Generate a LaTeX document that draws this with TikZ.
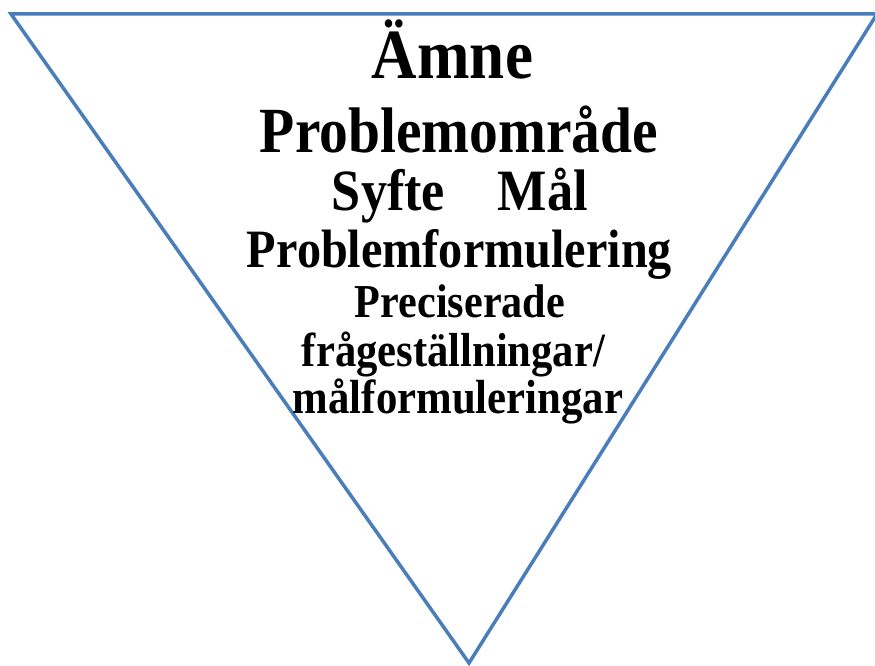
\documentclass[tikz,border=0pt]{standalone}
\usepackage{fontspec}
\usepackage{graphicx}
\setmainfont{Liberation Serif}
\definecolor{triblue}{HTML}{4A7EBB}
\newcommand\fitline[2]{\resizebox{#1pt}{!}{\scalebox{1}[1.12]{#2}}}
\tikzset{
  tri/.style={draw=triblue, line width=3.5pt, line join=miter},
  lbl/.style={anchor=base, inner sep=0pt, font=\bfseries}
}
\begin{document}
\begin{tikzpicture}[x=1pt,y=-1pt]
\useasboundingbox (0,0) rectangle (875,666);
\coordinate (tl) at (11,14);
\coordinate (tr) at (877,14);
\coordinate (bt) at (469,663);
\draw[tri] (tl) -- (tr) -- (bt) -- cycle;
\node[lbl] (amne) at (452.5,79) {\fitline{161}{Ämne}};
\node[lbl] (omr) at (459,153) {\fitline{398}{Problemområde}};
\node[lbl] (syfte) at (388.5,210) {\fitline{113}{Syfte}};
\node[lbl] (mal) at (543,210) {\fitline{90}{Mål}};
\node[lbl] (pform) at (459.5,267) {\fitline{425}{Problemformulering}};
\node[lbl] (prec) at (460,317) {\fitline{210}{Preciserade}};
\node[lbl] (frag) at (453.5,366) {\fitline{303}{frågeställningar/}};
\node[lbl] (malf) at (458,413) {\fitline{330}{målformuleringar}};
\end{tikzpicture}
\end{document}
